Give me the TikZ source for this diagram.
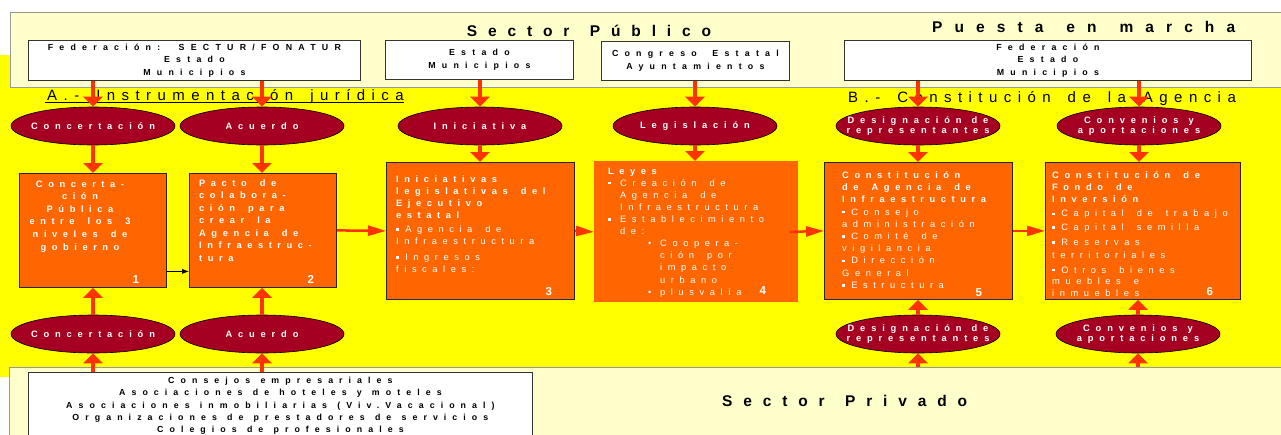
\documentclass[tikz,border=0pt]{standalone}
\usepackage{fontspec}
\setmainfont{Liberation Sans}
\newfontfamily\headfont[LetterSpace=70,WordSpace=1.35]{Liberation Sans}
\newfontfamily\puefont[LetterSpace=78,WordSpace=1.4]{Liberation Sans}
\newfontfamily\secfont[LetterSpace=43,WordSpace=1.6]{Liberation Sans}
\newfontfamily\wboxfont[LetterSpace=71,WordSpace=1.8]{Liberation Sans}
\newfontfamily\privfont[LetterSpace=69,WordSpace=1.2]{Liberation Sans}
\newfontfamily\ovalfont[LetterSpace=63,WordSpace=1.2]{Liberation Sans}
\newfontfamily\oboxfont[LetterSpace=60,WordSpace=1.6]{Liberation Sans}
\usetikzlibrary{shapes.geometric,arrows.meta,calc}

\definecolor{paleyellow}{HTML}{FFFFCC}
\definecolor{bandyellow}{HTML}{FFFF00}
\definecolor{boxorange}{HTML}{FF6600}
\definecolor{ovalred}{HTML}{A50021}
\definecolor{arrowred}{HTML}{FF3300}

\newcommand{\sqbul}{\rule[1.8pt]{2.6pt}{2.6pt}\hspace{6.5pt}}
\newcommand{\ibul}{\makebox[12pt][l]{\rule[1.8pt]{2.6pt}{2.6pt}}}
\newcommand{\rbul}{\makebox[12pt][l]{\textbullet}}

\begin{document}
\begin{tikzpicture}[x=1pt,y=-1pt,
	panel/.style={draw=black!40,fill=paleyellow,line width=0.8pt,inner sep=0pt,anchor=north west},
	wbox/.style={draw=black!80,fill=white,line width=0.8pt,inner sep=0pt,anchor=north west,
		align=center,font=\wboxfont\bfseries\fontsize{8.8}{12.5}\selectfont},
	obox/.style={draw=black!85,fill=boxorange,line width=0.8pt,inner sep=0pt,anchor=north west},
	otext/.style={text=white,font=\oboxfont\fontsize{9.3}{12.2}\selectfont,align=left,inner sep=0pt,anchor=north west},
	boxnum/.style={text=white,font=\bfseries\fontsize{11.5}{11.5}\selectfont,inner sep=0pt,anchor=base},
	oval/.style={ellipse,draw=black,fill=ovalred,line width=0.6pt,minimum width=164pt,minimum height=38pt,
		inner xsep=-60pt,inner ysep=-20pt,text=white,align=center,font=\ovalfont\bfseries\fontsize{9.3}{10.5}\selectfont},
	headtext/.style={font=\headfont\bfseries\fontsize{15.5}{15.5}\selectfont,inner sep=0pt},
	sectext/.style={font=\secfont\fontsize{15}{15}\selectfont,inner sep=0pt,anchor=base west},
	varrow/.style={draw=arrowred,line width=3.8pt,-{Triangle[width=19pt,length=10pt]}},
	harrow/.style={draw=arrowred,line width=2.5pt,-{Triangle[width=10pt,length=18pt]}}]

	\useasboundingbox (0,0) rectangle (1281,434);

	% background bands
	\fill[bandyellow] (0,55) rectangle (1281,377);
	\node[panel,minimum width=1280pt,minimum height=75pt] (pntop) at (10,12) {};
	\node[panel,minimum width=1280pt,minimum height=73pt] (pnbot) at (9,367) {};

	% sector titles
	\node[headtext,anchor=base] (pubhd) at (589,36) {Sector Público};
	\node[headtext,font=\puefont\bfseries\fontsize{15.5}{15.5}\selectfont,anchor=base west] (puehd) at (932,32) {Puesta en marcha};
	\node[headtext,anchor=base west] (privhd) at (722,406) {Sector Privado};

	\node[sectext] (secA) at (47,100.5) {A.- Instrumentación jurídica};
	\draw[line width=1.6pt] ([xshift=-2pt,yshift=-2pt]secA.base west) -- ([yshift=-2pt]secA.base east);
	\node[sectext] (secB) at (848,102) {B.- Constitución de la Agencia};

	% participants
	\node[wbox,minimum width=332pt,minimum height=40pt] (wfed) at (28,40) {Federación: SECTUR/FONATUR\\Estado\\Municipios};
	\node[wbox,minimum width=188pt,minimum height=39pt] (west) at (385,40) {Estado\\Municipios};
	\node[wbox,minimum width=188pt,minimum height=39pt] (wcong) at (601,41) {Congreso Estatal\\Ayuntamientos};
	\node[wbox,minimum width=407pt,minimum height=40pt] (wfedb) at (844,40) {Federación\\Estado\\Municipios};
	\node[wbox,font=\privfont\bfseries\fontsize{8.8}{12.3}\selectfont,minimum width=504pt,minimum height=67pt] (wpriv) at (28,372)
		{Consejos empresariales\\Asociaciones de hoteles y moteles\\Asociaciones inmobiliarias (Viv.Vacacional)\\Organizaciones de prestadores de servicios\\Colegios de profesionales};

	% ovals
	\node[oval] (ocon) at (93,126) {Concertación};
	\node[oval] (oacu) at (262,126) {Acuerdo};
	\node[oval] (oini) at (480,126) {Iniciativa};
	\node[oval] (oleg) at (695,126) {Legislación};
	\node[oval] (odes) at (918,126) {Designación de\\representantes};
	\node[oval] (oconv) at (1139,126) {Convenios y\\aportaciones};

	\node[oval] (oconb) at (93,334) {Concertación};
	\node[oval] (oacub) at (262,334) {Acuerdo};
	\node[oval] (odesb) at (918,334) {Designación de\\representantes};
	\node[oval] (oconvb) at (1138,334) {Convenios y\\aportaciones};

	% steps
	\node[obox,minimum width=147pt,minimum height=114pt] (box1) at (19,173) {};
	\node[obox,minimum width=147pt,minimum height=114pt] (box2) at (189,173) {};
	\node[obox,minimum width=188pt,minimum height=137pt] (box3) at (386,162) {};
	\node[obox,draw=none,minimum width=204pt,minimum height=141pt] (box4) at (594,161) {};
	\node[obox,minimum width=188pt,minimum height=137pt] (box5) at (824,162) {};
	\node[obox,minimum width=195pt,minimum height=137pt] (box6) at (1045,162) {};

	\node[otext,anchor=north,align=center,font=\oboxfont\bfseries\fontsize{9.3}{12.6}\selectfont] (txt1) at (80,180.5)
		{Concerta-\\ción\\Pública\\entre los 3\\niveles de\\gobierno};
	\node[otext,font=\oboxfont\bfseries\fontsize{9.3}{12.5}\selectfont] (txt2) at (199,179.5)
		{Pacto de\\colabora-\\ción para\\crear la\\Agencia de\\Infraestruc-\\tura};
	\node[otext,font=\oboxfont\fontsize{9.3}{12}\selectfont] (txt3) at (396,175.5)
		{\textbf{Iniciativas}\\\textbf{legislativas del}\\\textbf{Ejecutivo}\\\textbf{estatal}\\[2pt]
		\sqbul Agencia de\\Infraestructura\\[4pt]\sqbul Ingresos\\fiscales:};
	\node[otext,font=\oboxfont\fontsize{9.3}{12.1}\selectfont] (txt4) at (608,167.5)
		{\textbf{Leyes}\\\ibul Creación de\\\hspace*{12pt}Agencia de\\\hspace*{12pt}Infraestructura\\
		\ibul Establecimiento\\\hspace*{12pt}de:\\\hspace*{40pt}\rbul Coopera-\\\hspace*{52pt}ción por\\
		\hspace*{52pt}impacto\\\hspace*{52pt}urbano\\\hspace*{40pt}\rbul plusvalía};
	\node[otext] (txt5) at (842,171.5)
		{\textbf{Constitución}\\\textbf{de Agencia de}\\\textbf{Infraestructura}\\\sqbul Consejo\\administración\\
		\sqbul Comité de\\vigilancia\\\sqbul Dirección\\General\\\sqbul Estructura};
	\node[otext,font=\oboxfont\fontsize{9.3}{11.8}\selectfont] (txt6) at (1052,171.5)
		{\textbf{Constitución de}\\\textbf{Fondo de}\\\textbf{Inversión}\\[3pt]\sqbul Capital de trabajo\\[2pt]
		\sqbul Capital semilla\\[3pt]\sqbul Reservas\\[1pt]territoriales\\[3pt]\sqbul Otros bienes\\muebles e\\inmuebles};

	% step numbers
	\node[boxnum] at ([xshift=-31pt,yshift=4.5pt]box1.south east) {1};
	\node[boxnum] at ([xshift=-26pt,yshift=4.7pt]box2.south east) {2};
	\node[boxnum] at ([xshift=-26pt,yshift=4pt]box3.south east) {3};
	\node[boxnum] at ([xshift=-36pt,yshift=8pt]box4.south east) {4};
	\node[boxnum] at ([xshift=-34pt,yshift=3.7pt]box5.south east) {5};
	\node[boxnum] at ([xshift=-31pt,yshift=4pt]box6.south east) {6};

	% arrows from the public sector
	\draw[varrow] (wfed.south -| ocon) -- (ocon.north);
	\draw[varrow] (wfed.south -| oacu) -- (oacu.north);
	\draw[varrow] (west.south -| oini) -- (oini.north);
	\draw[varrow] (wcong.south -| oleg) -- (oleg.north);
	\draw[varrow] (wfedb.south -| odes) -- (odes.north);
	\draw[varrow] (wfedb.south -| oconv) -- (oconv.north);

	\draw[varrow] (ocon.south) -- (ocon.south |- box1.north);
	\draw[varrow] (oacu.south) -- (oacu.south |- box2.north);
	\draw[varrow] (oini.south) -- (oini.south |- box3.north);
	\draw[varrow] (oleg.south) -- (oleg.south |- box4.north);
	\draw[varrow] (odes.south) -- (odes.south |- box5.north);
	\draw[varrow] (oconv.south) -- (oconv.south |- box6.north);

	% arrows from the private sector
	\draw[varrow] (wpriv.north -| oconb) -- (oconb.south);
	\draw[varrow] (wpriv.north -| oacub) -- (oacub.south);
	\draw[varrow] (pnbot.north -| odesb) -- (odesb.south);
	\draw[varrow] (pnbot.north -| oconvb) -- (oconvb.south);

	\draw[varrow] (oconb.north) -- (oconb.north |- box1.south);
	\draw[varrow] (oacub.north) -- (oacub.north |- box2.south);
	\draw[varrow] (odesb.north) -- (odesb.north |- box5.south);
	\draw[varrow] (oconvb.north) -- (oconvb.north |- box6.south);

	% sequence
	\draw[line width=0.6pt,-{Latex[length=7pt,width=5pt]}] ([yshift=-41pt]box1.east) -- ([yshift=-41pt]box2.west);
	\draw[harrow] (box2.east) -- (box3.west);
	\draw[harrow] (box3.east) -- (box4.west);
	\draw[harrow] ([xshift=-9pt]box4.east) -- (box5.west);
	\draw[harrow] (box5.east) -- (box6.west);
\end{tikzpicture}
\end{document}
